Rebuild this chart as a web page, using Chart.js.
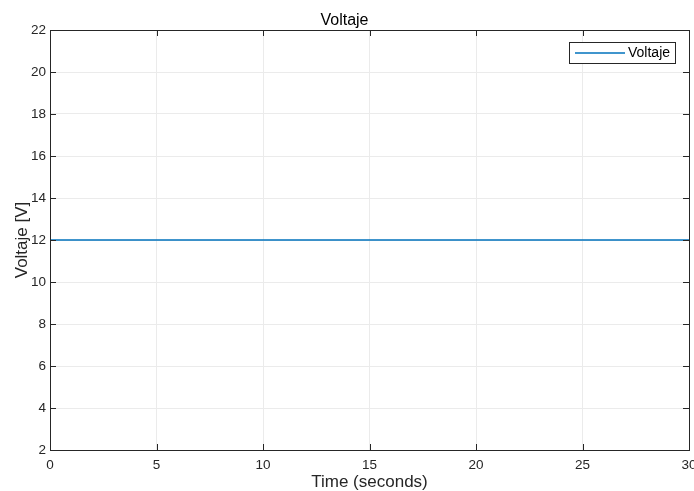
<!DOCTYPE html>
<html>
<head>
<meta charset="utf-8">
<script src="https://cdn.jsdelivr.net/npm/chart.js@4/dist/chart.umd.min.js"></script>
<style>
  html, body { margin: 0; padding: 0; background: #ffffff; }
  #wrap { width: 694px; height: 491px; }
</style>
</head>
<body>
<div id="wrap"><canvas id="c" width="694" height="491"></canvas></div>
<script>
// Supply voltage over time
const timeSeconds = [0, 30];
const voltage = [12, 12];
const xTicks = [0, 5, 10, 15, 20, 25, 30];
const yTicks = [2, 4, 6, 8, 10, 12, 14, 16, 18, 20, 22];
const seriesName = 'Voltaje';

const FONT = '"Liberation Sans", Arial, Helvetica, sans-serif';
const AXIS_COLOR = '#262626';
const GRID_COLOR = '#ebebeb';
const LINE_COLOR = '#0072BD';

// Box around the axes, inward tick marks on all four sides, and a boxed legend
const axesBox = {
  id: 'axesBox',
  afterDatasetsDraw(chart) {
    const { ctx, chartArea: a, scales } = chart;
    const len = 6;
    ctx.save();
    ctx.strokeStyle = AXIS_COLOR;
    ctx.lineWidth = 1;
    ctx.beginPath();
    xTicks.forEach(v => {
      const x = Math.round(scales.x.getPixelForValue(v)) + 0.5;
      ctx.moveTo(x, a.bottom); ctx.lineTo(x, a.bottom - len);
      ctx.moveTo(x, a.top); ctx.lineTo(x, a.top + len);
    });
    yTicks.forEach(v => {
      const y = Math.round(scales.y.getPixelForValue(v)) + 0.5;
      ctx.moveTo(a.left, y); ctx.lineTo(a.left + len, y);
      ctx.moveTo(a.right, y); ctx.lineTo(a.right - len, y);
    });
    ctx.stroke();
    ctx.strokeRect(Math.round(a.left) + 0.5, Math.round(a.top) + 0.5,
                   Math.round(a.right - a.left), Math.round(a.bottom - a.top));

    // legend
    const ds = chart.data.datasets[0];
    const bx = a.right - 120, by = a.top + 12, bw = 106, bh = 21;
    ctx.fillStyle = '#ffffff';
    ctx.fillRect(bx, by, bw, bh);
    ctx.strokeStyle = AXIS_COLOR;
    ctx.strokeRect(bx + 0.5, by + 0.5, bw, bh);
    ctx.strokeStyle = ds.borderColor;
    ctx.lineWidth = ds.borderWidth;
    ctx.beginPath();
    ctx.moveTo(bx + 6, by + 11); ctx.lineTo(bx + 56, by + 11);
    ctx.stroke();
    ctx.fillStyle = '#000000';
    ctx.font = '14px ' + FONT;
    ctx.textBaseline = 'middle';
    ctx.fillText(ds.label, bx + 59, by + 11.5);
    ctx.restore();
  }
};

new Chart(document.getElementById('c'), {
  type: 'line',
  data: {
    datasets: [{
      label: seriesName,
      data: timeSeconds.map((t, i) => ({ x: t, y: voltage[i] })),
      borderColor: LINE_COLOR,
      borderWidth: 1.5,
      pointRadius: 0,
      fill: false,
      tension: 0
    }]
  },
  options: {
    responsive: false,
    animation: false,
    devicePixelRatio: 1,
    layout: { padding: { left: 0, right: 5, top: 0, bottom: 0 } },
    plugins: {
      legend: { display: false },
      tooltip: { enabled: false },
      title: {
        display: true,
        text: 'Voltaje',
        color: '#000000',
        font: { family: FONT, size: 16, weight: 'normal', lineHeight: 1.2 },
        padding: { top: 10.8, bottom: 0 }
      }
    },
    scales: {
      x: {
        type: 'linear',
        min: 0, max: 30,
        afterBuildTicks(scale) { scale.ticks = xTicks.map(v => ({ value: v })); },
        afterFit(scale) {
          scale.height = 41;
          scale.paddingLeft = 0;
          scale.paddingRight = 0;
        },
        ticks: {
          color: AXIS_COLOR,
          font: { family: FONT, size: 13.5 },
          padding: 7,
          maxRotation: 0,
          autoSkip: false
        },
        grid: { color: GRID_COLOR, drawTicks: false },
        border: { display: false },
        title: {
          display: true,
          text: 'Time (seconds)',
          color: AXIS_COLOR,
          font: { family: FONT, size: 17, lineHeight: 1 },
          padding: { top: 0, bottom: 0 }
        }
      },
      y: {
        type: 'linear',
        min: 2, max: 22,
        afterBuildTicks(scale) { scale.ticks = yTicks.map(v => ({ value: v })); },
        afterFit(scale) {
          scale.width = 50;
          scale.paddingTop = 0;
          scale.paddingBottom = 0;
        },
        ticks: {
          color: AXIS_COLOR,
          font: { family: FONT, size: 13.5 },
          padding: 4,
          autoSkip: false
        },
        grid: { color: GRID_COLOR, drawTicks: false },
        border: { display: false },
        title: {
          display: true,
          text: 'Voltaje [V]',
          color: AXIS_COLOR,
          font: { family: FONT, size: 17, lineHeight: 1.2 },
          padding: { top: 12, bottom: 0 }
        }
      }
    }
  },
  plugins: [axesBox]
});
</script>
</body>
</html>
